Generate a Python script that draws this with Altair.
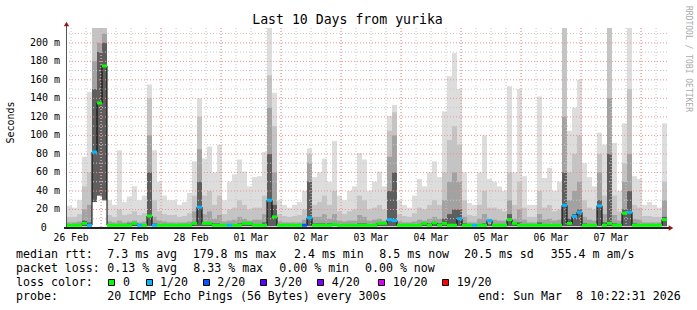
import altair as alt
import pandas as pd

# ---------------- data ----------------
# one bin = 2 hours, 120 bins from Feb 26 10:22 to Mar 8 10:22
mx = [24, 22, 30, 77, 147, 216, 216, 216, 30, 25,
      84, 28, 34, 45, 30, 35, 155, 84, 50, 35,
      30, 30, 25, 28, 38, 72, 140, 75, 88, 60,
      90, 30, 50, 58, 74, 61, 45, 55, 56, 82,
      216, 146, 30, 25, 22, 25, 28, 40, 86, 55,
      60, 75, 50, 94, 35, 30, 40, 45, 81, 74,
      40, 50, 61, 45, 121, 133, 30, 25, 22, 35,
      53, 45, 60, 72, 55, 126, 164, 189, 150, 60,
      27, 25, 60, 100, 53, 50, 45, 40, 153, 60,
      150, 56, 25, 25, 142, 54, 65, 40, 50, 216,
      105, 130, 160, 70, 55, 45, 103, 90, 216, 92,
      40, 113, 216, 56, 53, 25, 28, 25, 22, 113]
q2 = [12, 12, 15, 45, 60, 216, 216, 216, 14, 12,
      20, 14, 15, 18, 14, 16, 140, 30, 18, 15,
      14, 14, 12, 13, 16, 35, 120, 35, 40, 25,
      35, 15, 20, 22, 30, 25, 20, 22, 22, 35,
      165, 110, 15, 13, 12, 13, 14, 20, 80, 25,
      28, 35, 25, 40, 18, 15, 18, 20, 35, 30,
      20, 22, 25, 20, 105, 125, 15, 13, 12, 16,
      22, 20, 25, 30, 25, 60, 95, 110, 90, 30,
      14, 13, 25, 40, 22, 22, 20, 18, 60, 25,
      50, 22, 12, 12, 40, 22, 25, 18, 20, 216,
      60, 80, 100, 30, 22, 20, 80, 35, 216, 35,
      18, 70, 150, 25, 22, 13, 13, 12, 12, 50]
q3 = [6, 6, 7, 20, 25, 180, 200, 210, 7, 6,
      8, 6, 7, 8, 6, 7, 100, 12, 8, 7,
      6, 6, 6, 6, 7, 18, 85, 15, 18, 10,
      14, 7, 8, 9, 12, 10, 8, 9, 9, 15,
      130, 60, 7, 6, 6, 6, 6, 9, 70, 12,
      12, 15, 10, 15, 8, 7, 8, 8, 14, 12,
      8, 9, 10, 8, 77, 100, 7, 6, 6, 7,
      9, 8, 10, 12, 10, 30, 50, 60, 50, 12,
      6, 6, 10, 15, 10, 9, 8, 8, 30, 10,
      20, 9, 6, 6, 15, 9, 10, 8, 9, 120,
      30, 40, 50, 12, 9, 8, 60, 15, 140, 14,
      8, 50, 80, 10, 9, 6, 6, 6, 6, 30]
q4 = [4, 4, 4, 8, 6, 150, 190, 200, 4, 4,
      4, 4, 5, 5, 4, 4, 60, 5, 4, 4,
      4, 4, 4, 4, 4, 6, 50, 6, 6, 5,
      5, 4, 4, 4, 5, 5, 4, 4, 4, 6,
      80, 25, 4, 4, 4, 4, 4, 4, 50, 5,
      5, 5, 5, 5, 4, 4, 4, 4, 5, 5,
      4, 4, 4, 5, 40, 60, 4, 4, 4, 4,
      4, 4, 5, 5, 5, 10, 15, 20, 20, 5,
      4, 4, 4, 5, 4, 4, 4, 4, 15, 5,
      6, 4, 4, 4, 6, 4, 4, 4, 4, 60,
      10, 15, 20, 5, 4, 4, 30, 6, 80, 5,
      4, 20, 40, 5, 4, 4, 4, 4, 4, 12]
mn = [2, 2, 2, 2, 2, 28, 35, 30, 2, 2,
      2, 2, 2, 2, 2, 2, 2, 2, 2, 2,
      2, 2, 2, 2, 2, 2, 2, 2, 2, 2,
      2, 2, 2, 2, 2, 2, 2, 2, 2, 2,
      2, 2, 2, 2, 2, 2, 2, 2, 2, 2,
      2, 2, 2, 2, 2, 2, 2, 2, 2, 2,
      2, 2, 2, 2, 2, 2, 2, 2, 2, 2,
      2, 2, 2, 2, 2, 2, 2, 2, 2, 2,
      2, 2, 2, 2, 2, 2, 2, 2, 2, 2,
      2, 2, 2, 2, 2, 2, 2, 2, 2, 2,
      2, 2, 2, 2, 2, 2, 2, 2, 2, 2,
      2, 2, 2, 2, 2, 2, 2, 2, 2, 2]
md = [3, 3, 3, 5, 3, 82, 135, 175, 3, 3,
      3, 3, 3, 5, 3, 3, 13, 3, 3, 3,
      3, 3, 3, 3, 3, 5, 22.5, 5, 5, 3,
      3, 3, 3, 3, 3, 5, 5, 3, 3, 3,
      30, 12, 3, 3, 3, 3, 3, 3, 11, 3,
      3, 3, 3, 4, 3, 3, 3, 3, 3, 3,
      3, 3, 5, 5, 9, 8, 3, 3, 3, 3,
      3, 5, 3, 5.5, 3, 5, 3, 3, 10, 3,
      3, 3, 3, 3, 8, 3, 3, 3, 9, 5,
      3, 3, 3, 3, 3, 3, 3, 3, 3, 24.5,
      5, 12.5, 17, 3, 3, 3, 24, 3, 5, 3,
      3, 16, 17, 3, 3, 3, 3, 3, 3, 9]
loss = [0, 0, 0, 0, 1, 1, 0, 0, 0, 0,
        0, 0, 0, 0, 1, 0, 0, 1, 0, 0,
        0, 0, 0, 0, 0, 0, 1, 0, 0, 0,
        0, 0, 1, 0, 0, 0, 0, 0, 0, 0,
        1, 0, 0, 0, 0, 0, 0, 2, 1, 0,
        0, 0, 0, 0, 0, 0, 0, 0, 0, 0,
        0, 0, 0, 0, 1, 1, 0, 0, 0, 0,
        0, 0, 0, 0, 0, 0, 0, 0, 1, 0,
        0, 1, 0, 0, 1, 0, 0, 0, 0, 0,
        0, 0, 0, 0, 0, 0, 0, 0, 0, 1,
        0, 1, 1, 0, 0, 0, 1, 0, 0, 0,
        0, 0, 1, 0, 0, 0, 0, 0, 0, 0]

loss_labels = ["0", "1/20", "2/20", "3/20", "4/20", "10/20", "19/20"]
loss_colors = ["#00ff00", "#00b8ff", "#0059ff", "#5e00ff", "#7e00ff", "#dd00ff", "#ff0000"]

title_text = "Last 10 Days from yurika"
y_tick_values = [20, 40, 60, 80, 100, 120, 140, 160, 180, 200]
y_tick_labels = ["20 m", "40 m", "60 m", "80 m", "100 m", "120 m", "140 m", "160 m", "180 m", "200 m"]
day_labels = ["26 Feb", "27 Feb", "28 Feb", "01 Mar", "02 Mar", "03 Mar", "04 Mar", "05 Mar", "06 Mar", "07 Mar"]

legend_rows = [
    [("median rtt:", 16), ("7.3 ms avg", 107.3), ("179.8 ms max", 192.7), ("2.4 ms min", 294),
     ("8.5 ms now", 379.3), ("20.5 ms sd", 464), ("355.4 m am/s", 550.7)],
    [("packet loss:", 16), ("0.13 % avg", 107.3), ("8.33 % max", 193.3), ("0.00 % min", 279.3),
     ("0.00 % now", 365)],
    [("loss color:", 16)],
    [("probe:", 16), ("20 ICMP Echo Pings (56 Bytes) every 300s", 107.3),
     ("end: Sun Mar\u00a0\u00a08 10:22:31 2026", 478.3)],
]
legend_baselines = [257.5, 272, 285.7, 299.7]
swatch_left = [108.5, 146.5, 203.5, 260.5, 317.5, 378.5, 442.5]
swatch_text = [123, 160, 217.3, 274, 331.7, 392.7, 456.7]

# ---------------- layout ----------------
L, T = 67, 28
W, H = 600, 200
MONO = "DejaVu Sans Mono"

n = len(mx)
df = pd.DataFrame({
    "x0": [2 * i for i in range(n)],
    "x1": [2 * i + 2 for i in range(n)],
    "mx": mx, "q2": q2, "q3": q3, "q4": q4, "mn": mn, "md": md,
    "loss": [loss_labels[k] for k in loss],
})
line_df = pd.DataFrame({"x": [2 * i for i in range(n + 1)], "md": md + [md[-1]]})

xs = alt.Scale(domain=[0, 240], nice=False, zero=False)
ys = alt.Scale(domain=[0, 216], nice=False, zero=False)

base = alt.Chart(df)


def smoke(hi, color):
    return base.mark_rect(color=color, clip=True, strokeWidth=0).encode(
        x=alt.X("x0:Q", scale=xs, axis=None), x2="x1",
        y=alt.Y("mn:Q", scale=ys, axis=None), y2=hi)


layers = [smoke("mx", "#dddddd"), smoke("q2", "#c4c4c4"), smoke("q3", "#a2a2a2"), smoke("q4", "#5e5e5e")]

# grid
noon = 1.625
vminor = [noon + 6 * k for k in range(40)]
vmajor = [noon + 12 + 24 * k for k in range(10)]
hminor = [10 + 20 * k for k in range(11)]
hmajor = [20 + 20 * k for k in range(10)]
layers.append(alt.Chart(pd.DataFrame({"h": vminor})).mark_rule(color="#c8c8c8", strokeDash=[1, 2]).encode(
    x=alt.X("h:Q", scale=xs)))
layers.append(alt.Chart(pd.DataFrame({"v": hminor})).mark_rule(color="#c8c8c8", strokeDash=[1, 2]).encode(
    y=alt.Y("v:Q", scale=ys)))
layers.append(alt.Chart(pd.DataFrame({"h": vmajor})).mark_rule(color="#f09090", strokeDash=[1, 2]).encode(
    x=alt.X("h:Q", scale=xs)))
layers.append(alt.Chart(pd.DataFrame({"v": hmajor})).mark_rule(color="#f09090", strokeDash=[1, 2]).encode(
    y=alt.Y("v:Q", scale=ys)))

# median
layers.append(alt.Chart(line_df).mark_line(interpolate="step-after", color="black", strokeWidth=1, clip=True).encode(
    x=alt.X("x:Q", scale=xs), y=alt.Y("md:Q", scale=ys)))
layers.append(base.mark_rule(strokeWidth=3, clip=True).encode(
    x=alt.X("x0:Q", scale=xs), x2="x1", y=alt.Y("md:Q", scale=ys),
    color=alt.Color("loss:N", scale=alt.Scale(domain=loss_labels, range=loss_colors), legend=None)))

one = pd.DataFrame({"a": [0]})

# axes
layers.append(alt.Chart(one).mark_rule(color="#555555", strokeWidth=1).encode(
    x=alt.value(-0.5), y=alt.value(-5), y2=alt.value(H)))
layers.append(alt.Chart(one).mark_rule(color="#222222", strokeWidth=2).encode(
    x=alt.value(-3), x2=alt.value(W + 3), y=alt.value(H)))
layers.append(alt.Chart(one).mark_point(shape="triangle-up", filled=True, size=28, color="#8b1a1a", opacity=1).encode(
    x=alt.value(-0.5), y=alt.value(-4)))
layers.append(alt.Chart(one).mark_point(shape="triangle-right", filled=True, size=28, color="#8b1a1a", opacity=1).encode(
    x=alt.value(W + 4), y=alt.value(H)))

# y labels
layers.append(alt.Chart(pd.DataFrame({"v": y_tick_values, "t": y_tick_labels})).mark_text(
    font=MONO, fontSize=10, align="right", baseline="middle", color="black").encode(
    x=alt.value(-7), y=alt.Y("v:Q", scale=ys), text="t:N"))


def txt(s, x, y, size=11.6, align="left", baseline="alphabetic", color="black", angle=0, font=MONO):
    kw = dict(font=font, fontSize=size, align=align, baseline=baseline, color=color)
    if angle:
        kw["angle"] = angle
    return alt.Chart(one).mark_text(**kw).encode(
        x=alt.value(x - L), y=alt.value(y - T), text=alt.value(s))


layers.append(txt("0", 46.8, 228, size=10, align="right", baseline="middle"))

# x labels
layers.append(alt.Chart(pd.DataFrame({"h": [noon + 24 * k for k in range(10)], "t": day_labels})).mark_text(
    font=MONO, fontSize=9.7, align="center", baseline="alphabetic", color="black").encode(
    x=alt.X("h:Q", scale=xs), y=alt.value(240.8 - T), text="t:N"))

# titles
layers.append(txt(title_text, 347.5, 23.5, size=13.2, align="center"))
layers.append(txt("Seconds", 10.8, 122.5, size=10, align="center", baseline="middle", angle=270))
layers.append(txt("RRDTOOL / TOBI OETIKER", 687.5, 59, size=8, align="center", baseline="middle",
                  color="#aaaaaa", angle=90))

# legend text
for row, yb in zip(legend_rows, legend_baselines):
    for s, x in row:
        layers.append(txt(s, x, yb))
for lab, col, bx, tx in zip(loss_labels, loss_colors, swatch_left, swatch_text):
    layers.append(alt.Chart(one).mark_rect(fill=col, stroke="black", strokeWidth=1).encode(
        x=alt.value(bx - L), x2=alt.value(bx + 6 - L), y=alt.value(279.5 - T), y2=alt.value(285.5 - T)))
    layers.append(txt(lab, tx, legend_baselines[2]))

chart = alt.layer(*layers).properties(
    width=W, height=H,
    padding={"left": L, "top": T, "right": 697 - L - W, "bottom": 310 - T - H},
    autosize=alt.AutoSizeParams(type="none"),
    background="white",
).configure_view(stroke=None)

chart.save("out.html", embed_options={"renderer": "svg", "actions": False})
